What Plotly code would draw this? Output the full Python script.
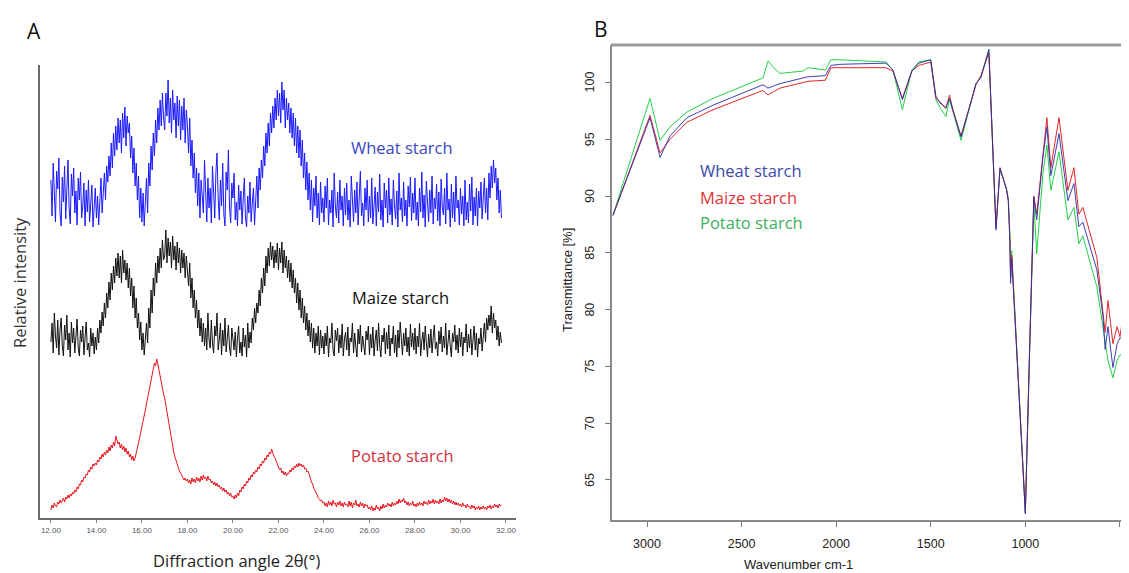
import plotly.graph_objects as go

OFF = 8                      # page offset of the plot div inside the browser body
W, H = 1129 - OFF, 573 - OFF

# ---------------- Panel A: XRD (relative intensity, stacked, arbitrary units) ----------------
wheat_xrd = [
    338,302,355,318,296,347,329,360,305,292,341,316,352,299,333,358,310,294,344,322,
    350,305,327,293,340,318,346,300,312,335,292,328,306,338,296,320,333,291,314,330,
    300,322,293,318,340,305,328,345,318,352,336,362,342,375,350,385,362,392,368,400,
    375,398,365,405,380,411,372,402,385,395,360,382,345,370,332,355,318,342,300,330,
    296,325,292,318,340,305,355,332,372,348,385,362,398,375,410,388,418,392,425,400,
    388,425,402,438,395,420,385,428,398,415,380,422,392,418,378,412,388,420,375,408,
    392,365,400,352,378,340,365,325,350,312,345,300,338,322,305,358,318,296,340,310,
    330,295,352,316,300,345,365,320,298,338,312,355,304,292,346,328,368,310,295,335,
    320,345,298,316,292,333,308,327,294,318,340,300,291,322,305,336,296,315,330,293,
    318,342,310,350,328,358,340,372,352,385,365,395,372,405,385,412,390,420,398,428,
    402,425,395,436,408,428,390,420,398,415,385,410,380,405,372,400,365,392,360,388,
    352,378,340,365,328,356,318,345,308,338,296,330,312,342,300,325,293,336,305,320,
    296,332,310,340,293,318,305,328,291,345,312,300,326,295,338,308,322,292,330,303,
    335,298,318,291,342,310,296,328,305,336,293,320,347,302,315,292,330,308,338,296,
    322,300,340,294,315,331,292,326,306,344,298,318,291,335,310,328,295,340,303,319,
    293,338,312,299,327,291,345,308,320,296,336,302,318,292,332,311,341,297,325,305,
    340,298,316,292,330,306,346,300,323,291,337,312,296,328,305,342,294,320,309,334,
    297,326,292,339,311,303,330,294,345,308,319,291,334,300,326,296,342,310,318,293,
    330,304,322,292,338,298,316,295,334,307,341,293,321,302,330,292,327,310,336,299,
    318,340,305,330,298,345,320,352,330,358,335,350,318,340,305,328,300]
maize_xrd = [
    176,195,165,205,182,170,198,163,188,200,172,162,193,178,203,168,185,161,196,175,
    190,165,182,199,170,162,188,176,192,163,180,196,168,175,161,190,172,185,164,181,
    168,190,175,198,185,206,192,215,200,225,210,236,218,245,228,252,235,260,242,265,
    240,262,235,268,245,258,238,255,230,250,222,240,210,232,200,220,190,205,178,196,
    168,185,163,180,195,175,210,190,228,205,240,222,255,235,262,245,270,250,278,258,
    262,288,255,280,262,276,250,282,258,272,248,276,255,270,245,268,250,265,240,262,
    248,232,255,220,240,210,228,200,218,190,208,182,200,176,195,172,190,168,205,178,
    170,198,175,165,192,182,205,168,178,195,163,188,172,200,166,184,193,170,162,190,
    175,168,186,161,180,192,165,176,162,190,171,183,161,195,170,186,175,200,188,210,
    195,215,205,228,212,240,225,250,232,262,245,270,252,276,258,272,250,268,255,275,
    248,270,255,276,245,268,250,262,240,258,236,255,230,248,225,240,215,235,208,228,
    200,220,195,212,188,205,182,198,176,195,170,190,165,185,172,192,163,188,170,182,
    164,185,172,192,161,180,175,195,168,162,188,177,190,165,183,170,194,162,179,186,
    168,191,162,180,176,195,165,185,171,161,189,174,193,166,182,170,163,187,178,192,
    163,184,170,191,162,178,188,167,195,172,161,183,176,190,164,186,169,193,162,180,
    174,192,165,183,161,188,170,196,175,163,185,172,190,166,181,162,194,171,185,168,
    190,164,182,171,195,162,177,186,168,192,175,161,184,170,189,165,180,193,169,176,
    162,187,174,191,166,182,170,195,163,179,188,172,161,185,176,193,168,183,165,190,
    171,186,162,181,175,194,166,184,170,189,163,178,192,168,185,161,180,174,190,167,
    182,195,176,200,188,203,192,212,185,205,190,198,178,192,172,186,175]
potato_xrd = [
    8,13,10,15,12,11,16,14,18,15,17,20,16,21,19,23,20,24,22,26,
    24,28,26,31,29,34,33,38,36,41,40,44,43,48,46,51,49,54,52,55,
    53,58,56,61,59,64,61,66,63,68,65,71,67,73,70,76,72,82,78,74,
    76,70,74,68,72,66,70,64,67,61,64,58,62,57,60,64,70,75,80,86,
    92,97,103,108,114,120,127,133,140,146,150,155,152,159,154,147,143,136,130,124,
    120,113,106,98,92,84,78,72,66,61,57,53,50,47,45,42,41,38,40,37,
    39,35,38,34,40,36,39,35,41,37,40,36,42,38,43,39,41,37,42,38,
    39,35,37,33,36,32,35,31,33,29,31,27,30,26,28,24,26,22,25,21,
    22,19,23,20,25,22,28,26,31,29,34,32,37,35,40,38,43,41,46,44,
    48,46,51,49,54,52,57,55,60,58,63,61,66,64,69,65,62,60,57,55,
    52,48,50,45,47,43,46,42,45,44,48,46,50,48,52,50,54,51,55,52,
    54,51,53,49,50,46,47,42,40,36,34,30,28,25,23,20,19,17,18,15,
    16,12,15,11,17,13,16,12,18,14,15,11,16,13,17,12,15,11,16,13,
    14,11,17,12,16,10,15,13,18,12,14,11,16,12,15,10,14,12,13,9,
    11,8,12,7,10,8,13,9,11,7,12,9,14,10,13,11,15,12,14,11,
    16,12,15,13,17,14,19,15,18,16,20,15,17,13,16,12,15,13,17,12,
    14,11,15,12,16,13,15,12,17,14,16,13,18,14,17,15,19,14,18,15,
    17,14,19,15,18,16,21,17,20,16,19,15,18,14,17,13,16,13,15,12,
    14,11,15,12,13,10,14,11,12,9,13,10,12,8,11,9,12,8,11,9,
    12,9,11,8,12,10,13,9,12,10,14,11,13,10,14,12,13]
two_theta = [round(12.0 + 0.05 * i, 2) for i in range(len(wheat_xrd))]
xrd_ticks = [12, 14, 16, 18, 20, 22, 24, 26, 28, 30, 32]
xrd_ticktext = ["%.2f" % t for t in xrd_ticks]

# ---------------- Panel B: FTIR ----------------
wavenumber = [3180, 2984, 2931, 2878, 2789, 2651, 2387, 2360, 2330, 2297, 2175, 2150, 2057, 2028,
              1980, 1737, 1700, 1650, 1600, 1563, 1500, 1473, 1452, 1420, 1401, 1382, 1340, 1282,
              1261, 1235, 1193, 1155, 1134, 1100, 1090, 1082, 1078, 1072, 1000, 976, 955, 940,
              907, 886, 865, 822, 775, 743, 717, 696, 622, 590, 578, 563, 537, 515, 500, 474, 455]
wheat_ftir = [88.3, 96.9, 93.4, 95.3, 96.9, 98.0, 99.8, 99.5, 99.7, 99.9, 100.4, 100.5, 100.6, 101.5,
              101.6, 101.7, 101.1, 98.5, 101.0, 101.7, 102.0, 98.8, 98.2, 97.8, 98.6, 97.6, 95.2, 98.6,
              99.9, 100.4, 102.9, 87.0, 92.4, 90.6, 89.6, 86.0, 82.3, 84.5, 62.0, 77.3, 89.9, 87.9,
              93.4, 96.1, 91.8, 95.5, 89.6, 91.1, 87.3, 87.7, 83.5, 79.5, 76.5, 78.5, 74.9, 77.0, 77.5, 77.3, 79.0]
maize_ftir = [88.3, 97.1, 93.8, 95.0, 96.5, 97.6, 99.3, 98.9, 99.2, 99.5, 100.0, 100.1, 100.2, 101.3,
              101.3, 101.3, 101.0, 98.6, 101.0, 101.5, 101.8, 98.6, 98.3, 97.7, 98.9, 97.5, 95.3, 98.5,
              99.8, 100.6, 102.6, 87.3, 92.5, 90.6, 89.6, 86.5, 82.8, 84.8, 62.2, 77.5, 90.0, 88.4,
              93.6, 96.9, 92.5, 96.9, 90.5, 92.5, 88.4, 89.0, 84.6, 80.2, 78.0, 80.8, 77.0, 78.5, 77.6, 80.5, 80.8]
potato_ftir = [88.3, 98.6, 94.9, 96.1, 97.4, 98.6, 100.4, 101.9, 101.3, 100.8, 101.0, 101.3, 101.1, 102.0,
               102.0, 101.8, 101.1, 97.6, 101.1, 101.8, 102.0, 98.5, 97.8, 97.0, 98.5, 97.4, 94.9, 98.6,
               99.9, 100.5, 102.9, 87.2, 92.4, 90.7, 89.8, 86.8, 84.0, 85.2, 62.1, 77.0, 89.5, 84.9,
               92.0, 94.5, 90.5, 93.9, 87.9, 89.0, 85.8, 86.5, 82.0, 78.5, 77.3, 75.5, 74.0, 75.5, 76.0, 76.1, 77.3]
ftir_ticks_x = [3000, 2500, 2000, 1500, 1000, 500]
ftir_ticks_y = [65, 70, 75, 80, 85, 90, 95, 100]


def px(x):
    return (x - OFF) / W


def py(y):
    return 1 - (y - OFF) / H


Y2_DOMAIN = [py(520), py(45)]
Y2_RANGE = [61.47, 103.3]


def y2_to_paper(v):
    return Y2_DOMAIN[0] + (v - Y2_RANGE[0]) / (Y2_RANGE[1] - Y2_RANGE[0]) * (Y2_DOMAIN[1] - Y2_DOMAIN[0])


fig = go.Figure()

fig.add_trace(go.Scatter(x=two_theta, y=wheat_xrd, mode="lines", line=dict(color="#1a1aff", width=1),
                         xaxis="x", yaxis="y", showlegend=False))
fig.add_trace(go.Scatter(x=two_theta, y=maize_xrd, mode="lines", line=dict(color="#111111", width=1),
                         xaxis="x", yaxis="y", showlegend=False))
fig.add_trace(go.Scatter(x=two_theta, y=potato_xrd, mode="lines", line=dict(color="#e8141c", width=1),
                         xaxis="x", yaxis="y", showlegend=False))

fig.add_trace(go.Scatter(x=wavenumber, y=potato_ftir, mode="lines", line=dict(color="#22d04a", width=1),
                         xaxis="x2", yaxis="y2", showlegend=False))
fig.add_trace(go.Scatter(x=wavenumber, y=maize_ftir, mode="lines", line=dict(color="#e02828", width=1),
                         xaxis="x2", yaxis="y2", showlegend=False))
fig.add_trace(go.Scatter(x=wavenumber, y=wheat_ftir, mode="lines", line=dict(color="#2b2ba8", width=1),
                         opacity=0.9, xaxis="x2", yaxis="y2", showlegend=False))

arial = "Liberation Sans, Arial"
sans = "Open Sans, Noto Sans, DejaVu Sans"

fig.update_layout(
    width=W, height=H,
    margin=dict(l=0, r=0, t=0, b=0),
    paper_bgcolor="white", plot_bgcolor="white",
    xaxis=dict(domain=[px(40), px(516)], range=[11.52, 32.44], showgrid=False, zeroline=False,
               showline=True, linecolor="#6a6a6a", linewidth=2,
               tickmode="array", tickvals=xrd_ticks, ticktext=xrd_ticktext,
               ticks="outside", ticklen=3, tickcolor="#888", tickwidth=1,
               tickfont=dict(family=arial, size=8, color="#555")),
    yaxis=dict(domain=[py(518), py(65)], range=[0, 453], showgrid=False, zeroline=False,
               showline=True, linecolor="#6a6a6a", linewidth=2, showticklabels=False, ticks=""),
    xaxis2=dict(domain=[px(612), 1.0], range=[3185, 452], anchor="y2", showgrid=False, zeroline=False,
                showline=True, linecolor="#8a8a8a", linewidth=2,
                tickmode="array", tickvals=ftir_ticks_x,
                ticks="outside", ticklen=5, tickcolor="#777", tickwidth=1, ticklabelstandoff=6,
                tickfont=dict(family=arial, size=12.5, color="#222")),
    yaxis2=dict(domain=Y2_DOMAIN, range=Y2_RANGE, anchor="x2", showgrid=False, zeroline=False,
                showline=True, linecolor="#8a8a8a", linewidth=1.5,
                tickmode="array", tickvals=ftir_ticks_y, showticklabels=False,
                ticks="outside", ticklen=5, tickcolor="#777", tickwidth=1),
    shapes=[dict(type="line", xref="paper", yref="paper", x0=px(611), x1=1.0, y0=py(45), y1=py(45),
                 line=dict(color="#9a9a9a", width=3))],
)

ann = []


def add_text(text, x, y, size, color, family=sans, angle=0, xanchor="center"):
    ann.append(dict(text=text, x=px(x), y=py(y), xref="paper", yref="paper", showarrow=False,
                    font=dict(size=size, color=color, family=family), textangle=angle,
                    xanchor=xanchor, yanchor="middle"))


# rotated y tick labels of panel B (reading bottom to top), placed at the axis values
for v in ftir_ticks_y:
    ann.append(dict(text="<b></b>" + str(v), x=px(590), y=y2_to_paper(v), xref="paper", yref="paper",
                    showarrow=False, font=dict(size=12.5, color="#222", family=arial), textangle=-90,
                    xanchor="center", yanchor="middle"))

add_text("A", 34, 31, 21, "#111")
add_text("B", 601, 29, 21, "#111")
add_text("Relative intensity", 19, 283, 16.5, "#333", angle=-90)
add_text("Diffraction angle 2θ(°)", 237, 560, 16.5, "#222")
add_text("Wheat starch", 402, 147, 16.5, "#3a48c0")
add_text("Maize starch", 400, 297, 16.5, "#111")
add_text("Potato starch", 402, 455, 16.5, "#d0303c")
add_text("Transmittance [%]", 567, 280, 13, "#222", family=arial, angle=-90)
add_text("Wavenumber cm-1", 798, 564, 13, "#222", family=arial)
add_text("Wheat starch", 698, 170, 16.5, "#3b4aa8", xanchor="left")
add_text("Maize starch", 698, 197, 16.5, "#e03535", xanchor="left")
add_text("Potato starch", 698, 223, 16.5, "#3cb060", xanchor="left")
fig.update_layout(annotations=ann)

fig.write_html("out.html")
